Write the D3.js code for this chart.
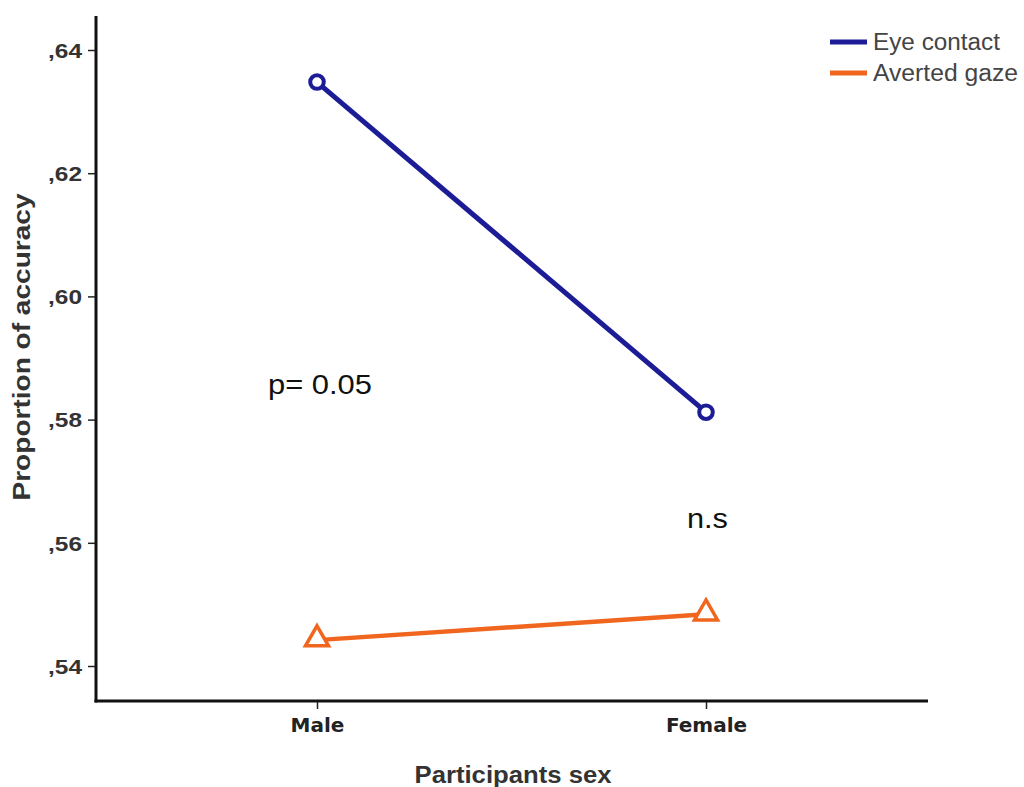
<!DOCTYPE html>
<html><head><meta charset="utf-8">
<script src="https://cdn.jsdelivr.net/npm/d3@7"></script>
<style>body{margin:0;background:#fff}svg{display:block}</style>
</head><body>
<svg id="c" width="1024" height="787"></svg>
<script>
const categories = ["Male", "Female"];
const seriesNames = ["Eye contact", "Averted gaze"];
const eyeContact = [0.6348, 0.5812];
const avertedGaze = [0.5442, 0.5484];
const yTicks = [0.54, 0.56, 0.58, 0.60, 0.62, 0.64];
const yTickLabels = [",54", ",56", ",58", ",60", ",62", ",64"];
const colors = ["#1c1c96", "#f0661e"];

const svg = d3.select("#c");
const x = d3.scalePoint().domain(categories).range([317, 706]);
const y = d3.scaleLinear().domain([0.54, 0.64]).range([666, 50]);
const axisLeftX = 96, axisBottomY = 701, axisTopY = 16, axisRightX = 928;
const FF = "Liberation Sans, Arial, sans-serif";

// axes lines
svg.append("line").attr("x1", axisLeftX).attr("x2", axisLeftX).attr("y1", axisTopY).attr("y2", axisBottomY + 1.5)
  .attr("stroke", "#111").attr("stroke-width", 3);
svg.append("line").attr("x1", axisLeftX - 1.5).attr("x2", axisRightX).attr("y1", axisBottomY).attr("y2", axisBottomY)
  .attr("stroke", "#111").attr("stroke-width", 3);

// y ticks
const yAxis = d3.axisLeft(y).tickValues(yTicks).tickSize(7).tickPadding(6)
  .tickFormat((d, i) => yTickLabels[i]);
const gy = svg.append("g").attr("transform", `translate(${axisLeftX - 1},0)`).call(yAxis);
gy.select(".domain").remove();
gy.selectAll(".tick line").attr("stroke", "#222").attr("stroke-width", 1.5);
gy.selectAll(".tick text").attr("font-family", FF)
  .attr("font-size", 20).attr("font-weight", "bold").attr("fill", "#333")
  .attr("textLength", 34).attr("lengthAdjust", "spacingAndGlyphs").attr("dy", "0.36em");

// x ticks
const xAxis = d3.axisBottom(x).tickSize(7).tickPadding(9);
const gx = svg.append("g").attr("transform", `translate(0,${axisBottomY + 1})`).call(xAxis);
gx.select(".domain").remove();
gx.selectAll(".tick line").attr("stroke", "#222").attr("stroke-width", 1.5);
gx.selectAll(".tick text").attr("font-family", "DejaVu Sans, sans-serif")
  .attr("font-size", 20).attr("font-weight", "bold").attr("fill", "#222");

// titles
svg.append("text").attr("x", 513).attr("y", 783).attr("text-anchor", "middle")
  .attr("font-family", FF).attr("font-size", 23).attr("font-weight", "bold")
  .attr("fill", "#333").attr("textLength", 197).attr("lengthAdjust", "spacingAndGlyphs").text("Participants sex");
svg.append("text").attr("transform", "translate(30,347) rotate(-90)").attr("text-anchor", "middle")
  .attr("font-family", FF).attr("font-size", 23).attr("font-weight", "bold")
  .attr("fill", "#333").attr("textLength", 307).attr("lengthAdjust", "spacingAndGlyphs").text("Proportion of accuracy");

// lines
const line = d3.line().x((d, i) => x(categories[i])).y(d => y(d));
const allSeries = [eyeContact, avertedGaze];
allSeries.forEach((s, k) => {
  svg.append("path").datum(s).attr("d", line).attr("fill", "none")
    .attr("stroke", colors[k]).attr("stroke-width", k === 0 ? 5 : 4.5);
});

// markers
svg.selectAll(".circ").data(eyeContact).enter().append("circle")
  .attr("cx", (d, i) => x(categories[i])).attr("cy", d => y(d)).attr("r", 6.8)
  .attr("fill", "#fff").attr("stroke", colors[0]).attr("stroke-width", 4);
const tri = d3.symbol().type(d3.symbolTriangle).size(230);
svg.selectAll(".tri").data(avertedGaze).enter().append("path")
  .attr("d", tri).attr("transform", (d, i) => `translate(${x(categories[i])},${y(d) - 1})`)
  .attr("fill", "#fff").attr("stroke", colors[1]).attr("stroke-width", 3.5);

// annotations
svg.append("text").attr("x", 268).attr("y", 394).attr("font-family", FF)
  .attr("font-size", 27).attr("fill", "#111").attr("textLength", 104).attr("lengthAdjust", "spacingAndGlyphs").text("p= 0.05");
svg.append("text").attr("x", 687).attr("y", 528).attr("font-family", FF)
  .attr("font-size", 27).attr("fill", "#111").attr("textLength", 41).attr("lengthAdjust", "spacingAndGlyphs").text("n.s");

// legend
const legendLen = [127, 145];
seriesNames.forEach((n, k) => {
  const ly = 42 + k * 31;
  svg.append("line").attr("x1", 830).attr("x2", 867).attr("y1", ly).attr("y2", ly)
    .attr("stroke", colors[k]).attr("stroke-width", 5);
  svg.append("text").attr("x", 873).attr("y", ly + 8).attr("font-family", FF)
    .attr("font-size", 23).attr("fill", "#444").attr("textLength", legendLen[k])
    .attr("lengthAdjust", "spacingAndGlyphs").text(n);
});
</script>
</body></html>
